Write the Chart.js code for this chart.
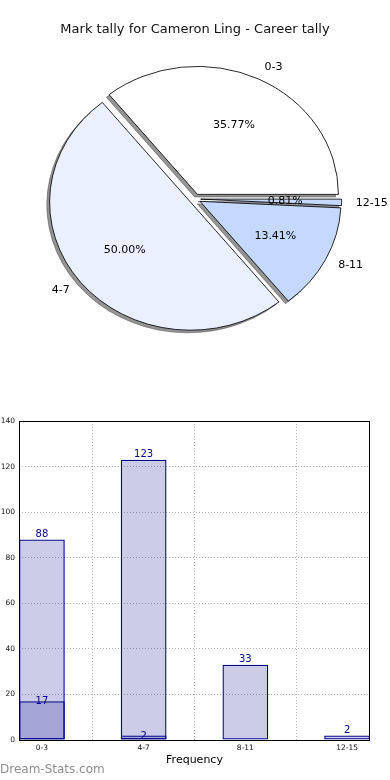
<!DOCTYPE html>
<html><head><meta charset="utf-8">
<script src="https://cdn.jsdelivr.net/npm/chart.js@4/dist/chart.umd.min.js"></script>
<style>
html,body{margin:0;padding:0;background:#fff;}
body{width:390px;height:780px;position:relative;overflow:hidden;font-family:'DejaVu Sans',sans-serif;}
#pie{position:absolute;left:0;top:0;}
#bar{position:absolute;left:0;top:400px;}
#wm{position:absolute;left:0;top:762px;font:12px 'DejaVu Sans',sans-serif;color:#8f8f8f;white-space:nowrap;}
</style></head><body>
<canvas id="pie" width="390" height="390"></canvas>
<canvas id="bar" width="390" height="380"></canvas>
<div id="wm">Dream-Stats.com</div>
<script>
// ---- data ----
const chartTitle = 'Mark tally for Cameron Ling - Career tally';
const categories = ['0-3', '4-7', '8-11', '12-15'];
const tallyValues = [88, 123, 33, 2];
const subsetValues = [17, 2, 0, 0];
const xAxisTitle = 'Frequency';

// ---- styles ----
const FONT = "'DejaVu Sans', sans-serif";
const pieColors = ['#ffffff', '#eaf0ff', '#c5d9ff', '#c5d9ff'];
const PIE_R = 128;          // vertical radius
const PIE_SX = 141 / 128;   // horizontal stretch (non-equal aspect)
const EXPLODE = 0.04;
const SHADOW_DX = -2.8, SHADOW_DY = 2.6;
const SHADOW_COLOR = 'rgba(60,60,60,0.55)';

const total = tallyValues.reduce((a, b) => a + b, 0);

const piePlugin = {
  id: 'mplPie',
  beforeDatasetDraw(chart, args) {
    const ctx = chart.ctx;
    const arcs = args.meta.data;
    const pass = (shadow) => {
      arcs.forEach(arc => {
        const mid = (arc.startAngle + arc.endAngle) / 2;
        const t = EXPLODE * arc.outerRadius;
        ctx.save();
        ctx.translate(arc.x, arc.y);
        if (shadow) ctx.translate(SHADOW_DX, SHADOW_DY);
        ctx.scale(PIE_SX, -1);
        ctx.translate(Math.cos(mid) * t, Math.sin(mid) * t);
        ctx.translate(-arc.x, -arc.y);
        if (shadow) {
          const orig = arc.options;
          arc.options = Object.assign({}, orig, {backgroundColor: SHADOW_COLOR, borderColor: SHADOW_COLOR});
          arc.draw(ctx);
          arc.options = orig;
        } else {
          arc.draw(ctx);
        }
        ctx.restore();
      });
    };
    pass(true);
    pass(false);
    return false;
  },
  afterDatasetsDraw(chart) {
    const ctx = chart.ctx;
    const meta = chart.getDatasetMeta(0);
    ctx.save();
    ctx.fillStyle = '#000';
    ctx.font = '11px ' + FONT;
    ctx.textBaseline = 'middle';
    meta.data.forEach((arc, i) => {
      const mid = (arc.startAngle + arc.endAngle) / 2;
      const R = arc.outerRadius;
      const c = Math.cos(mid), s = Math.sin(mid);
      const t = EXPLODE * R;
      const pr = t + 0.6 * R;
      ctx.textAlign = 'center';
      const pct = (tallyValues[i] / total * 100).toFixed(2) + '%';
      ctx.fillText(pct, arc.x + PIE_SX * c * pr, arc.y - s * pr);
      const lr = t + 1.1 * R;
      const lx = arc.x + PIE_SX * c * lr;
      ctx.textAlign = c > 0.001 ? 'left' : (c < -0.001 ? 'right' : 'center');
      ctx.fillText(categories[i], lx, arc.y - s * lr);
    });
    ctx.textAlign = 'center';
    ctx.font = '13px ' + FONT;
    ctx.fillStyle = '#111';
    ctx.fillText(chartTitle, 195, 30);
    ctx.restore();
  }
};

new Chart(document.getElementById('pie'), {
  type: 'pie',
  data: {
    labels: categories,
    datasets: [{
      data: tallyValues,
      backgroundColor: pieColors,
      borderColor: '#000',
      borderWidth: 0.8,
      radius: PIE_R
    }]
  },
  options: {
    responsive: false,
    animation: false,
    rotation: 90,
    events: [],
    layout: {padding: {top: 8, bottom: 0, left: 0, right: 0}},
    plugins: {legend: {display: false}, tooltip: {enabled: false}, title: {display: false}}
  },
  plugins: [piePlugin]
});

// ---- bar chart ----
const barLabelPlugin = {
  id: 'barLabels',
  afterDatasetsDraw(chart) {
    const ctx = chart.ctx;
    ctx.save();
    ctx.fillStyle = '#00008b';
    ctx.font = '10px ' + FONT;
    ctx.textAlign = 'center';
    chart.data.datasets.forEach((ds, di) => {
      const meta = chart.getDatasetMeta(di);
      meta.data.forEach((bar, i) => {
        const v = ds.data[i].y;
        if (!v) return;
        if (ds.labelMode === 'top') {
          ctx.textBaseline = 'alphabetic';
          ctx.fillText(String(v), bar.x, bar.y - 2.5);
        } else {
          ctx.textBaseline = 'middle';
          ctx.fillText(String(v), bar.x, bar.y + 0.5);
        }
      });
    });
    ctx.restore();
  },
  afterDraw(chart) {
    const a = chart.chartArea;
    const ctx = chart.ctx;
    ctx.save();
    ctx.strokeStyle = '#000';
    ctx.lineWidth = 1;
    ctx.strokeRect(Math.round(a.left) + 0.5, Math.round(a.top) + 0.5, Math.round(a.right - a.left) - 1, Math.round(a.bottom - a.top));
    ctx.restore();
  }
};

const gridStyle = {color: '#b5b5b5', lineWidth: 1, drawTicks: false};
const barStyle = {
  backgroundColor: 'rgba(0,0,139,0.2)',
  borderColor: '#00008b',
  borderWidth: 1.3,
  borderSkipped: false,
  inflateAmount: 0,
  grouped: false,
  categoryPercentage: 0.45,
  barPercentage: 1
};
new Chart(document.getElementById('bar'), {
  type: 'bar',
  data: {
    datasets: [
      Object.assign({label: 'subset', labelMode: 'mid', data: subsetValues.map((v, i) => ({x: i, y: v})), order: 0}, barStyle),
      Object.assign({label: 'tally', labelMode: 'top', data: tallyValues.map((v, i) => ({x: i, y: v})), order: 1}, barStyle)
    ]
  },
  options: {
    responsive: false,
    animation: false,
    events: [],
    layout: {padding: {top: 21, right: 20, left: 0, bottom: 0}},
    plugins: {legend: {display: false}, tooltip: {enabled: false}},
    scales: {
      x: {
        type: 'linear',
        min: -0.225,
        max: 3.225,
        offset: false,
        grid: gridStyle,
        border: {display: false, dash: [1, 2]},
        ticks: {
          stepSize: 1,
          includeBounds: false,
          autoSkip: false,
          maxRotation: 0,
          padding: 4,
          color: '#111',
          font: {size: 7.5, family: FONT},
          callback: (v) => (Number.isInteger(v) && categories[v] !== undefined) ? categories[v] : ''
        },
        title: {display: true, text: xAxisTitle, color: '#000', font: {size: 11, family: FONT}, padding: {top: 0, bottom: 13}},
        afterFit(s) { s.height = 40; }
      },
      y: {
        min: 0,
        max: 140,
        grid: gridStyle,
        border: {display: false, dash: [1, 2]},
        ticks: {stepSize: 20, padding: 4, color: '#111', font: {size: 7.5, family: FONT}},
        afterFit(s) { s.width = 19; }
      }
    }
  },
  plugins: [barLabelPlugin]
});
</script>
</body></html>
